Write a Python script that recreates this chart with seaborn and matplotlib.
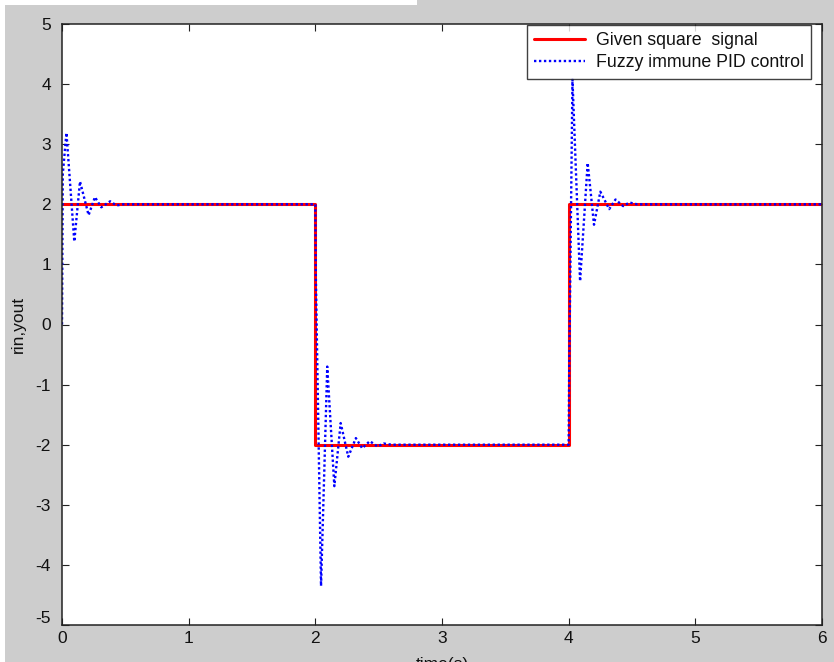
import numpy as np
import pandas as pd
import matplotlib
matplotlib.use("Agg")
import matplotlib.pyplot as plt
import matplotlib.transforms as mtransforms
from matplotlib.patches import Rectangle
import seaborn as sns

# Given square reference signal (step changes at t = 2 s and t = 4 s)
t_given = [0.0, 2.0, 2.0, 4.0, 4.0, 6.0]
y_given = [2.0, 2.0, -2.0, -2.0, 2.0, 2.0]

# Fuzzy immune PID closed-loop response (turning points of the trace)
t_fuzzy = [0.0, 0.006, 0.035, 0.097, 0.142, 0.21, 0.26, 0.31, 0.38, 0.43, 0.48,
           2.0, 2.004, 2.045, 2.094, 2.15, 2.20, 2.26, 2.32, 2.37, 2.43, 2.49, 2.54, 2.60,
           4.0, 4.004, 4.03, 4.09, 4.15, 4.20, 4.25, 4.32, 4.37, 4.43, 4.48, 4.54, 6.0]
y_fuzzy = [0.0, 2.5, 3.19, 1.38, 2.38, 1.82, 2.12, 1.95, 2.05, 1.98, 2.0,
           2.0, 0.8, -4.35, -0.70, -2.69, -1.64, -2.20, -1.89, -2.06, -1.94, -2.03, -1.98, -2.0,
           -2.0, -0.8, 4.08, 0.72, 2.69, 1.66, 2.21, 1.92, 2.08, 1.97, 2.03, 2.0, 2.0]

x_ticks = [0, 1, 2, 3, 4, 5, 6]
y_ticks = [-5, -4, -3, -2, -1, 0, 1, 2, 3, 4, 5]

given_df = pd.DataFrame({"t": t_given, "y": y_given})
fuzzy_df = pd.DataFrame({"t": t_fuzzy, "y": y_fuzzy})

sns.set_theme(style="ticks")
plt.rcParams["font.family"] = ["Liberation Sans", "DejaVu Sans"]

W, H = 834, 662
fig = plt.figure(figsize=(W / 100, H / 100), dpi=100, facecolor="#cdcdcd")
ax = fig.add_axes([62 / W, (H - 625) / H, (822 - 62) / W, (625 - 24) / H])
ax.set_facecolor("white")

sns.lineplot(data=given_df, x="t", y="y", estimator=None, sort=False,
             color="#ff0000", linewidth=2.2, ax=ax, label="Given square  signal")
sns.lineplot(data=fuzzy_df, x="t", y="y", estimator=None, sort=False,
             color="#0000ff", linewidth=1.7, linestyle=(0, (1, 1.1)), ax=ax,
             label="Fuzzy immune PID control")

ax.set_xlim(0, 6)
ax.set_ylim(-5, 5)
ax.set_xticks(x_ticks)
ax.set_yticks(y_ticks)
ax.set_xticklabels([str(v) for v in x_ticks])
ax.set_yticklabels([str(v) for v in y_ticks])

for s in ax.spines.values():
    s.set_visible(True)
    s.set_color("#222222")
    s.set_linewidth(1.1)

ax.tick_params(axis="both", which="both", direction="in", length=5, width=0.8,
               color="#222222", top=True, right=True, labelsize=12.5, labelcolor="#111111")
ax.tick_params(axis="y", pad=8)
ax.tick_params(axis="x", pad=4)

# lift the lowest y label so it clears the x origin label
lowest = ax.get_yticklabels()[0]
lowest.set_transform(lowest.get_transform() +
                     mtransforms.ScaledTranslation(0, 8 / 100, fig.dpi_scale_trans))

ax.set_xlabel("time(s)", fontsize=12.5, color="#111111")
ax.set_ylabel("rin,yout", fontsize=12.5, color="#111111")
ax.xaxis.set_label_coords(0.5, -(664 - 625) / 601)
ax.xaxis.label.set_va("center")
ax.yaxis.set_label_coords(-(62 - 18) / 760, 0.5)
ax.yaxis.label.set_va("center")

leg = ax.legend(loc="upper right", bbox_to_anchor=((811 - 62) / (822 - 62), 1.0 - 1 / 601),
                frameon=True, fancybox=False, fontsize=12.8, borderaxespad=0,
                handlelength=2.9, handletextpad=0.6, borderpad=0.4, labelspacing=0.3)
leg.get_frame().set_edgecolor("#111111")
leg.get_frame().set_linewidth(1.0)
for txt in leg.get_texts():
    txt.set_color("#111111")

# thin light border along the left and top edges of the window
fig.patches.append(Rectangle((0, 0), 5 / W, 1, transform=fig.transFigure,
                             facecolor="white", edgecolor="none", zorder=-1))
fig.patches.append(Rectangle((0, 1 - 5 / H), 0.5, 5 / H, transform=fig.transFigure,
                             facecolor="white", edgecolor="none", zorder=-1))

fig.savefig("out.png", dpi=100, facecolor=fig.get_facecolor())
